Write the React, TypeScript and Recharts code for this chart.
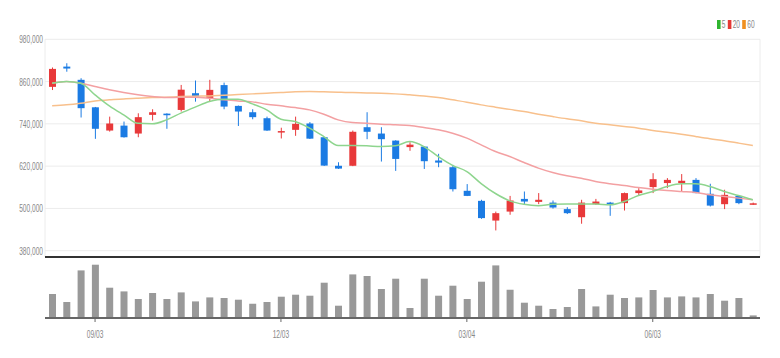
import React from 'react';
import { ComposedChart, Bar, Line, XAxis, YAxis, CartesianGrid, ReferenceLine } from 'recharts';

// weekly candles
const dates = [
  '08/13', '08/20', '08/27', '09/03', '09/10', '09/17', '09/24', '10/01', '10/08', '10/15',
  '10/22', '10/29', '11/05', '11/12', '11/19', '11/26', '12/03', '12/10', '12/17', '12/24',
  '12/31', '01/07', '01/14', '01/21', '01/28', '02/04', '02/11', '02/18', '02/25', '03/04',
  '03/11', '03/18', '03/25', '04/01', '04/08', '04/15', '04/22', '04/29', '05/06', '05/13',
  '05/20', '05/27', '06/03', '06/10', '06/17', '06/24', '07/01', '07/08', '07/15', '07/22',
];
const dateTicks = ['09/03', '12/03', '03/04', '06/03'];
const priceTicks = [380000, 500000, 620000, 740000, 860000, 980000];

const opens = [845000, 902500, 865000, 787000, 721000, 735000, 712500, 765500, 769000, 779500, 827000, 813000, 850000, 791000, 773000, 756000, 715500, 723000, 741000, 702000, 621000, 621000, 730500, 712500, 692500, 674000, 675500, 636000, 617000, 550000, 521500, 465500, 491000, 527000, 518500, 516500, 498000, 475000, 512000, 516500, 515000, 543500, 560500, 572000, 572000, 581000, 541500, 512000, 535500, 512500];
const highs = [900000, 912000, 869500, 788000, 760500, 746500, 770000, 781500, 770000, 850500, 863000, 865000, 857000, 792000, 781500, 760500, 729000, 760500, 745000, 703000, 631000, 721000, 773000, 730500, 693500, 688000, 676500, 655000, 623500, 569000, 524500, 491000, 535500, 548000, 543500, 522500, 503500, 524500, 527000, 518500, 545000, 557500, 600000, 586000, 597500, 586000, 570000, 553000, 537000, 516500];
const lows = [836000, 888000, 758000, 697500, 718000, 701000, 702000, 749500, 726000, 775000, 803000, 803000, 781500, 734000, 753000, 720000, 698500, 706000, 697000, 620500, 612000, 620000, 696500, 633000, 606500, 663500, 612000, 617000, 548000, 535000, 470500, 437500, 482000, 512000, 512000, 499500, 484000, 456500, 510000, 479000, 494000, 535500, 543500, 557500, 548000, 543000, 505500, 498000, 512000, 510000];
const closes = [896000, 897000, 784500, 726000, 741000, 702000, 759000, 773000, 764500, 837000, 817500, 836500, 789000, 775000, 759000, 721000, 719500, 740000, 698000, 621500, 613000, 717500, 717500, 696500, 640500, 681000, 634000, 630000, 554500, 535500, 472500, 486500, 522500, 519500, 524500, 502500, 486500, 516500, 519500, 509500, 543500, 551000, 583000, 581000, 578500, 543500, 508000, 538500, 515000, 514500];
const volumes = [120000, 80000, 238000, 266500, 151500, 133000, 95000, 125000, 95000, 128000, 83000, 103000, 100000, 91500, 71500, 80000, 106500, 116500, 111500, 176500, 61500, 218000, 210000, 145000, 196500, 50000, 196500, 111500, 161500, 95000, 181500, 263000, 141500, 76500, 61500, 45000, 55000, 145000, 58000, 116500, 100000, 103000, 140000, 103000, 108000, 103000, 120000, 86500, 100000, 13000];

const ma5 = [855500, 860000, 855500, 822300, 791000, 765500, 741400, 740000, 751300, 770400, 787400, 803300, 810000, 810000, 796700, 779700, 753300, 746500, 727800, 704000, 678400, 678400, 677600, 675600, 677600, 689800, 675600, 647200, 622300, 604700, 570600, 542300, 521500, 511600, 507900, 511600, 512200, 512200, 512200, 510200, 519600, 536600, 547900, 562100, 569800, 569800, 562100, 547900, 536600, 524400];
const ma20 = [855500, 860000, 855500, 845800, 836500, 828800, 822300, 817500, 814600, 815700, 815700, 812900, 808100, 805200, 802400, 795900, 791100, 786300, 779700, 767500, 751300, 743700, 742000, 739100, 737200, 735200, 729500, 723000, 713600, 699400, 680400, 661400, 647200, 630200, 614300, 601800, 592500, 585900, 576300, 569800, 564800, 559300, 554700, 550800, 547900, 545100, 538600, 533800, 529200, 524400];
const ma60 = [791100, 793900, 798700, 805200, 808100, 810900, 812900, 814600, 815700, 817400, 818600, 819400, 821400, 823100, 825100, 827100, 828800, 830800, 831600, 830800, 829900, 828800, 827900, 827100, 825100, 822300, 819400, 814600, 808100, 801600, 793900, 787400, 781100, 774900, 767500, 760700, 754200, 748500, 742000, 737200, 732400, 727800, 721000, 716400, 710800, 704000, 697500, 691800, 685300, 678400];

const UP = '#e8393a';
const DOWN = '#1b7be3';

const rows = dates.map((date, i) => ({
  date,
  open: opens[i],
  high: highs[i],
  low: lows[i],
  close: closes[i],
  range: [lows[i], highs[i]],
  volume: volumes[i],
  ma5: ma5[i],
  ma20: ma20[i],
  ma60: ma60[i],
}));

const Candle = (props: any) => {
  const { x, y, width, height, payload } = props;
  const top = Math.min(y, y + height);
  const h = Math.abs(height);
  const k = payload.high > payload.low ? h / (payload.high - payload.low) : 0;
  const yOpen = top + (payload.high - payload.open) * k;
  const yClose = top + (payload.high - payload.close) * k;
  const color = payload.close >= payload.open ? UP : DOWN;
  const cx = x + width / 2;
  return (
    <g>
      <line x1={cx} x2={cx} y1={top} y2={top + h} stroke={color} strokeWidth={1} />
      <rect x={x} y={Math.min(yOpen, yClose)} width={width} height={Math.max(Math.abs(yOpen - yClose), 1.5)} fill={color} />
    </g>
  );
};

const YTick = ({ x, y, payload }: any) => (
  <g transform={`translate(${x},${y})`}>
    <text transform="scale(0.6,1)" textAnchor="end" dy={4} fill="#888" fontSize={11}>
      {payload.value.toLocaleString('en-US')}
    </text>
  </g>
);

const XTick = ({ x, y, payload }: any) => (
  <g transform={`translate(${x},${y})`}>
    <text transform="scale(0.6,1)" textAnchor="middle" dy="0.71em" fill="#888" fontSize={11}>
      {payload.value}
    </text>
  </g>
);

const legendItems = [
  { label: '5', color: '#2fb52f' },
  { label: '20', color: '#e53935' },
  { label: '60', color: '#f0901e' },
];

export default function App() {
  return (
    <div style={{ position: 'absolute', left: 0, top: 0, width: 780, height: 358, background: '#fff', fontFamily: "'Liberation Sans', Arial, sans-serif" }}>
      <div style={{ position: 'absolute', left: 717, top: 18, fontSize: 11, color: '#888', transform: 'scaleX(0.6)', transformOrigin: 'left top', whiteSpace: 'nowrap' }}>
        {legendItems.map((it) => (
          <span key={it.label} style={{ marginRight: 4 }}>
            <span style={{ display: 'inline-block', width: 6, height: 9, background: it.color, marginRight: 2, verticalAlign: -1 }} />
            {it.label}
          </span>
        ))}
      </div>

      <div style={{ position: 'absolute', left: 0, top: 0 }}>
        <ComposedChart width={780} height={260} data={rows} margin={{ top: 39.3, right: 20, bottom: 0, left: 0 }} barCategoryGap={0}>
          <CartesianGrid stroke="#ececec" />
          <XAxis dataKey="date" ticks={dateTicks} interval={0} tick={false} tickLine={false} height={3} axisLine={{ stroke: '#333', strokeWidth: 2 }} />
          <YAxis width={45} domain={[362100, 980000]} ticks={priceTicks} tick={<YTick />} tickSize={0} tickMargin={2} axisLine={false} tickLine={false} />
          <Line dataKey="ma60" type="monotone" stroke="#f8c08c" strokeWidth={1.5} dot={false} isAnimationActive={false} />
          <Line dataKey="ma20" type="monotone" stroke="#f3a0a2" strokeWidth={1.5} dot={false} isAnimationActive={false} />
          <Line dataKey="ma5" type="monotone" stroke="#8ed58e" strokeWidth={1.5} dot={false} isAnimationActive={false} />
          <Bar dataKey="range" barSize={7} shape={<Candle />} isAnimationActive={false} />
        </ComposedChart>
      </div>

      <div style={{ position: 'absolute', left: 0, top: 258 }}>
        <ComposedChart width={780} height={100} data={rows} margin={{ top: 0, right: 20, bottom: 0, left: 45 }}>
          <XAxis dataKey="date" ticks={dateTicks} interval={0} height={40} tick={<XTick />} tickSize={4} tickMargin={8} axisLine={{ stroke: '#666', strokeWidth: 2 }} tickLine={{ stroke: '#666' }} />
          <YAxis hide domain={[0, 300000]} />
          <Bar dataKey="volume" barSize={7} fill="#999" isAnimationActive={false} />
        </ComposedChart>
      </div>
    </div>
  );
}
